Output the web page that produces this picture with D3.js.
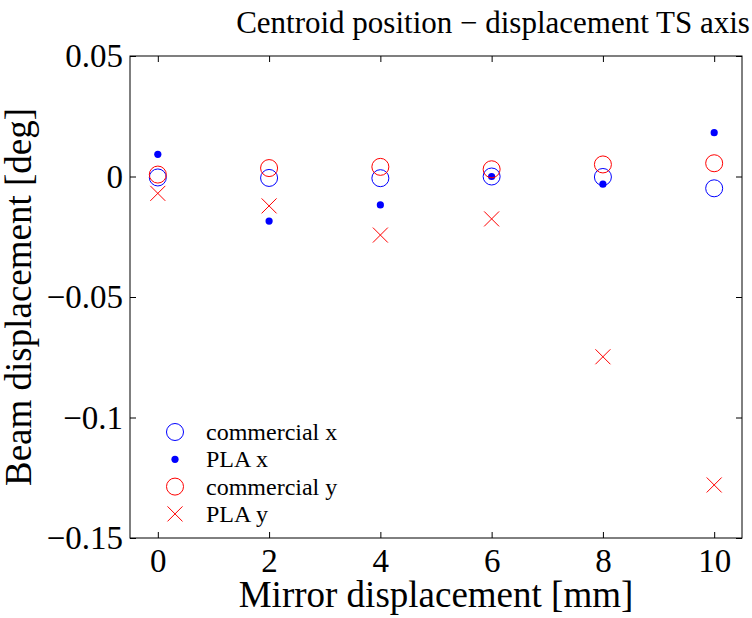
<!DOCTYPE html>
<html><head><meta charset="utf-8">
<script src="https://cdn.jsdelivr.net/npm/d3@7"></script>
<style>body{margin:0;background:#fff}svg{display:block}text{font-family:"Liberation Serif","Times New Roman",serif;fill:#000}</style>
</head><body><svg id="c" width="752" height="618"></svg>
<script>
const mirrorMm = [0, 2, 4, 6, 8, 10];
const commercialX = [-0.0004, -0.0006, -0.0007, 0.0000, -0.0002, -0.0049];
const plaX = [0.0092, -0.0185, -0.0118, 0.0000, -0.0032, 0.0182];
const commercialY = [0.0008, 0.0035, 0.0040, 0.0030, 0.0050, 0.0055];
const plaY = [-0.0070, -0.0122, -0.0243, -0.0176, -0.0748, -0.1280];
const xTicks = [0, 2, 4, 6, 8, 10];
const yTicks = [0.05, 0, -0.05, -0.1, -0.15];
const yTickLabels = ["0.05", "0", "\u22120.05", "\u22120.1", "\u22120.15"];
const legendLabels = ["commercial x", "PLA x", "commercial y", "PLA y"];

const L = 130, R = 742, T = 56, B = 538;
const svg = d3.select("#c");
const x = d3.scaleLinear().domain([-0.5, 10.5]).range([L, R]);
const y = d3.scaleLinear().domain([-0.15, 0.05]).range([B, T]);
const blue = "#0000ff", red = "#ff0000";

svg.append("rect").attr("x", L).attr("y", T).attr("width", R - L).attr("height", B - T)
  .attr("fill", "none").attr("stroke", "#000").attr("stroke-width", 1);

const tl = 6;
const fmt = d => yTickLabels[yTicks.indexOf(d)];
const ax = [
  d3.axisBottom(x).tickValues(xTicks).tickSizeInner(-tl).tickSizeOuter(0).tickPadding(11),
  d3.axisTop(x).tickValues(xTicks).tickSizeInner(-tl).tickSizeOuter(0).tickFormat(""),
  d3.axisLeft(y).tickValues(yTicks).tickSizeInner(-tl).tickSizeOuter(0).tickPadding(7).tickFormat(fmt),
  d3.axisRight(y).tickValues(yTicks).tickSizeInner(-tl).tickSizeOuter(0).tickFormat("")
];
const pos = [`translate(0,${B})`, `translate(0,${T})`, `translate(${L},0)`, `translate(${R},0)`];
ax.forEach((a, i) => {
  const g = svg.append("g").attr("transform", pos[i]).call(a);
  g.attr("font-family", null).attr("font-size", null);
  g.select(".domain").remove();
  g.selectAll(".tick line").attr("stroke", "#000");
  g.selectAll("text").style("font-family", '"Liberation Serif",serif').style("font-size", "33px").attr("fill", "#000");
});

const circ = (sel, data, col, r) => sel.selectAll(null).data(data).enter().append("circle")
  .attr("cx", (d, i) => x(mirrorMm[i])).attr("cy", d => y(d)).attr("r", r)
  .attr("fill", "none").attr("stroke", col).attr("stroke-width", 1);
const plot = svg.append("g");
circ(plot, commercialX, blue, 8.5);
plot.selectAll(null).data(plaX).enter().append("circle")
  .attr("cx", (d, i) => x(mirrorMm[i])).attr("cy", d => y(d)).attr("r", 3.6).attr("fill", blue);
circ(plot, commercialY, red, 8.5);
const cs = 7.5;
plot.selectAll(null).data(plaY).enter().append("path")
  .attr("d", (d, i) => { const cx = x(mirrorMm[i]), cy = y(d);
    return `M${cx - cs},${cy - cs}L${cx + cs},${cy + cs}M${cx - cs},${cy + cs}L${cx + cs},${cy - cs}`; })
  .attr("stroke", red).attr("stroke-width", 1).attr("fill", "none");

const lg = svg.append("g");
const lx = 175, ly0 = 432, dy = 27.3;
legendLabels.forEach((lab, i) => {
  const cy = ly0 + i * dy;
  if (i === 0 || i === 2) lg.append("circle").attr("cx", lx).attr("cy", cy).attr("r", 8.5)
    .attr("fill", "none").attr("stroke", i === 0 ? blue : red);
  else if (i === 1) lg.append("circle").attr("cx", lx).attr("cy", cy).attr("r", 3.6).attr("fill", blue);
  else lg.append("path").attr("d", `M${lx - cs},${cy - cs}L${lx + cs},${cy + cs}M${lx - cs},${cy + cs}L${lx + cs},${cy - cs}`)
    .attr("stroke", red).attr("fill", "none");
  lg.append("text").attr("x", 206).attr("y", cy + 8).attr("font-size", "24px").text(lab);
});

svg.append("text").attr("x", (L + R) / 2).attr("y", 607).attr("text-anchor", "middle")
  .attr("font-size", "37px").text("Mirror displacement [mm]");
svg.append("text").attr("transform", `translate(31,${(T + B) / 2}) rotate(-90)`).attr("text-anchor", "middle")
  .attr("font-size", "37px").text("Beam displacement [deg]");
svg.append("text").attr("x", 493).attr("y", 33).attr("text-anchor", "middle")
  .attr("font-size", "31px").text("Centroid position \u2212 displacement TS axis");
</script></body></html>
